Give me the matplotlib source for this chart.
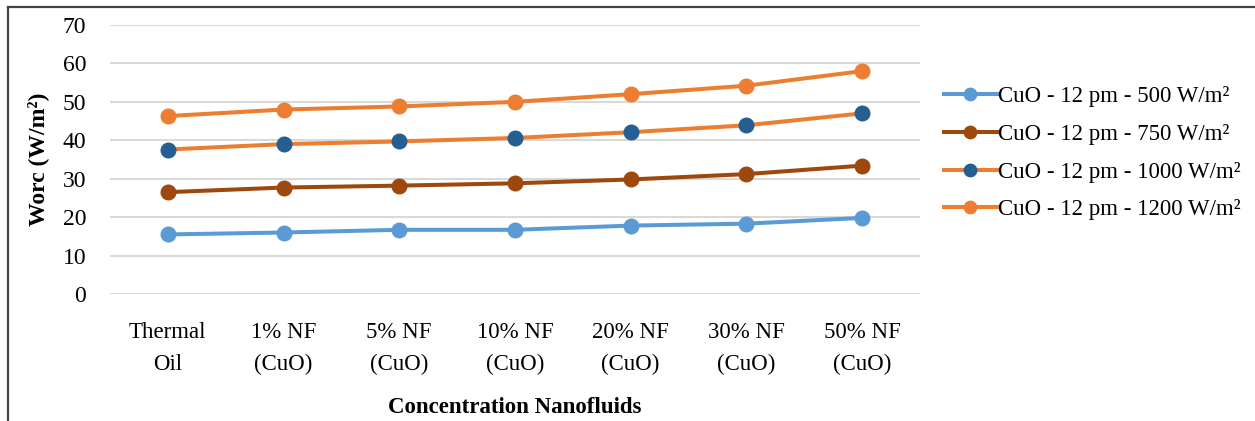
import matplotlib
matplotlib.use("Agg")
import matplotlib.pyplot as plt
from matplotlib.lines import Line2D

plt.rcParams['font.family'] = ['Liberation Serif', 'DejaVu Serif']

# concentrations on the x axis
categories = ["Thermal\nOil", "1% NF\n(CuO)", "5% NF\n(CuO)", "10% NF\n(CuO)",
              "20% NF\n(CuO)", "30% NF\n(CuO)", "50% NF\n(CuO)"]

# work output at 12 pm for each irradiance level
worc_500 = [15.5, 16.0, 16.7, 16.7, 17.8, 18.3, 19.8]
worc_750 = [26.5, 27.7, 28.2, 28.8, 29.8, 31.2, 33.4]
worc_1000 = [37.6, 39.0, 39.7, 40.6, 42.1, 43.9, 47.0]
worc_1200 = [46.3, 48.0, 48.8, 50.0, 52.0, 54.2, 58.0]

labels = ["CuO - 12 pm - 500 W/m²", "CuO - 12 pm - 750 W/m²",
          "CuO - 12 pm - 1000 W/m²", "CuO - 12 pm - 1200 W/m²"]

fig = plt.figure(figsize=(12.55, 4.21), dpi=100)
ax = fig.add_axes([0.0876, 0.3017, 0.6454, 0.6389])

x = list(range(len(categories)))
lw = 2.9
ms = 10.5
ax.plot(x, worc_500, color='#5B9BD5', lw=lw, marker='o', ms=ms, label=labels[0])
ax.plot(x, worc_750, color='#9E480E', lw=lw, marker='o', ms=ms, label=labels[1])
ax.plot(x, worc_1000, color='#ED7D31', lw=lw, marker='o', ms=ms,
        markerfacecolor='#255E91', markeredgecolor='#255E91', label=labels[2])
ax.plot(x, worc_1200, color='#ED7D31', lw=lw, marker='o', ms=ms, label=labels[3])

ax.set_xlim(-0.5, 6.5)
ax.set_ylim(0, 70)
ax.set_yticks(range(0, 71, 10))
ax.set_xticks(x)
ax.set_xticklabels(categories, fontsize=16.5, linespacing=1.7)
ax.tick_params(axis='y', labelsize=17, length=0, pad=17)
ax.tick_params(axis='x', length=0, pad=20)
ax.grid(axis='y', color='#D9D9D9', lw=1.5)
ax.set_axisbelow(True)
for s in ax.spines.values():
    s.set_visible(False)

ax.set_ylabel("Worc (W/m²)", fontsize=17, fontweight='bold', labelpad=10)
fig.text(0.41, 0.033, "Concentration Nanofluids", fontsize=16.5, fontweight='bold',
         ha='center', va='center')

fig.legend(loc='center left', bbox_to_anchor=(0.745, 0.636), frameon=False,
           fontsize=16.5, handlelength=2.3, handletextpad=0.05, labelspacing=0.72,
           borderaxespad=0, markerscale=0.85)

# outer frame (top and left edges)
fig.add_artist(Line2D([8 / 1255, 1], [1 - 7 / 421, 1 - 7 / 421], color='#444444', lw=1.6,
                      transform=fig.transFigure))
fig.add_artist(Line2D([8 / 1255, 8 / 1255], [0, 1 - 7 / 421], color='#444444', lw=1.6,
                      transform=fig.transFigure))

fig.savefig("out.png", dpi=100)
